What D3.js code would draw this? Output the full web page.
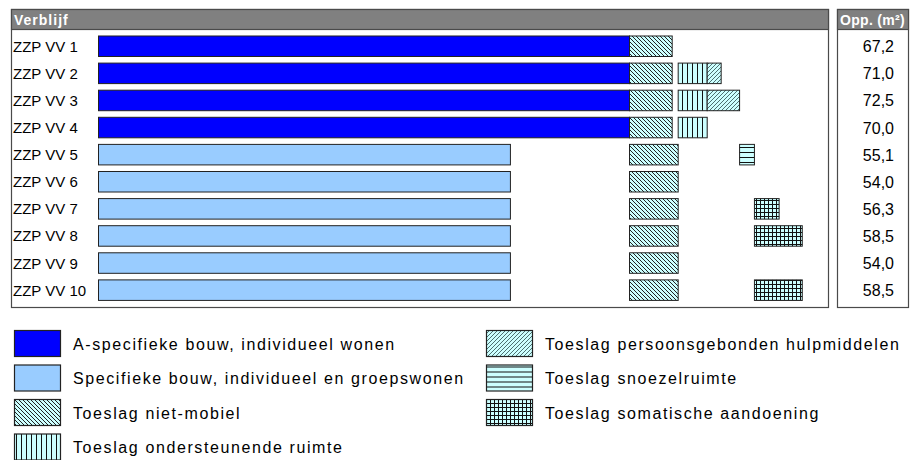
<!DOCTYPE html>
<html>
<head>
<meta charset="utf-8">
<script src="https://cdn.jsdelivr.net/npm/d3@7"></script>
<style>
  body { margin: 0; background: #fff; }
  text { font-family: "Liberation Sans", Arial, sans-serif; }
</style>
</head>
<body>
<script>
// data (m2)
const categories = ["ZZP VV 1", "ZZP VV 2", "ZZP VV 3", "ZZP VV 4", "ZZP VV 5",
                    "ZZP VV 6", "ZZP VV 7", "ZZP VV 8", "ZZP VV 9", "ZZP VV 10"];
const aSpecifiek    = [62.1, 62.1, 62.1, 62.1, 0, 0, 0, 0, 0, 0];
const specifiek     = [0, 0, 0, 0, 48.2, 48.2, 48.2, 48.2, 48.2, 48.2];
const nietMobiel    = [5.1, 5.1, 5.1, 5.1, 5.8, 5.8, 5.8, 5.8, 5.8, 5.8];
const ondersteunend = [0, 3.5, 3.5, 3.5, 0, 0, 0, 0, 0, 0];
const hulpmiddelen  = [0, 1.75, 3.9, 0, 0, 0, 0, 0, 0, 0];
const snoezel       = [0, 0, 0, 0, 1.85, 0, 0, 0, 0, 0];
const somatisch     = [0, 0, 0, 0, 0, 0, 3.0, 5.7, 0, 5.7];
const totals = ["67,2", "71,0", "72,5", "70,0", "55,1", "54,0", "56,3", "58,5", "54,0", "58,5"];

const series = [
  { key: "A-specifieke bouw, individueel wonen", values: aSpecifiek, fill: "#0000ff", col: 0 },
  { key: "Specifieke bouw, individueel en groepswonen", values: specifiek, fill: "#99ccff", col: 0 },
  { key: "Toeslag niet-mobiel", values: nietMobiel, fill: "url(#p-nm)", col: 1 },
  { key: "Toeslag ondersteunende ruimte", values: ondersteunend, fill: "url(#p-ond)", col: 2 },
  { key: "Toeslag persoonsgebonden hulpmiddelen", values: hulpmiddelen, fill: "url(#p-hulp)", col: 3 },
  { key: "Toeslag snoezelruimte", values: snoezel, fill: "url(#p-snoe)", col: 4 },
  { key: "Toeslag somatische aandoening", values: somatisch, fill: "url(#p-som)", col: 5 }
];

const svg = d3.select("body").append("svg").attr("width", 912).attr("height", 460);

// hatch patterns
const defs = svg.append("defs");
function pattern(id, w, h, d, stroke, sw) {
  let p = defs.append("pattern").attr("id", id).attr("patternUnits", "userSpaceOnUse")
              .attr("width", w).attr("height", h);
  p.append("rect").attr("width", w).attr("height", h).attr("fill", "#ccffff");
  p.append("path").attr("d", d).attr("stroke", stroke).attr("stroke-width", sw).attr("fill", "none");
}
pattern("p-nm", 4, 4, "M-1,-1L5,5M-1,3L1,5M3,-1L5,1", "#222", 1);
pattern("p-hulp", 4, 4, "M-1,5L5,-1M-1,1L1,-1M3,5L5,3", "#4d6f6f", 1);
pattern("p-ond", 5, 4, "M2.5,0V4", "#111", 1);
pattern("p-snoe", 4, 5, "M0,2.5H4", "#111", 1);
pattern("p-som", 4, 4, "M0.5,0V4M0,0.5H4", "#111", 1);

// scales
let x = d3.scaleLinear().domain([0, 62.1]).range([98, 630]);
let w = v => x(v) - x(0);
let y = d3.scaleBand().domain(categories).range([32.7, 303.7])
          .paddingInner(0.243).paddingOuter(0.1215);

// each toeslag sits in its own column, starting where the widest bar of the previous one ends
let colMax = [];
series.forEach(s => { colMax[s.col] = Math.max(colMax[s.col] || 0, d3.max(s.values, w)); });
let colStart = [x(0)];
for (let c = 1; c < colMax.length; c++) colStart[c] = colStart[c - 1] + colMax[c - 1] - 1;

// panels
svg.append("rect").attr("x", 11.5).attr("y", 9.5).attr("width", 817).attr("height", 298)
   .attr("fill", "#fff").attr("stroke", "#4a4a4a").attr("stroke-width", 1.2);
svg.append("rect").attr("x", 11.5).attr("y", 9.5).attr("width", 817).attr("height", 20)
   .attr("fill", "#808080").attr("stroke", "#4a4a4a").attr("stroke-width", 1.2);
svg.append("text").attr("x", 14).attr("y", 25).attr("fill", "#fff")
   .style("font-weight", "bold").style("font-size", "14px").style("letter-spacing", "1px")
   .text("Verblijf");

svg.append("rect").attr("x", 837.5).attr("y", 9.5).attr("width", 71).attr("height", 298)
   .attr("fill", "#fff").attr("stroke", "#4a4a4a").attr("stroke-width", 1.2);
svg.append("rect").attr("x", 837.5).attr("y", 9.5).attr("width", 71).attr("height", 20)
   .attr("fill", "#808080").attr("stroke", "#4a4a4a").attr("stroke-width", 1.2);
svg.append("text").attr("x", 840).attr("y", 25).attr("fill", "#fff")
   .style("font-weight", "bold").style("font-size", "14px").style("letter-spacing", "0.3px")
   .text("Opp. (m²)");

// row labels
svg.append("g").selectAll("text").data(categories).enter().append("text")
   .attr("x", 13).attr("y", d => y(d) + y.bandwidth() / 2 + 5.5)
   .style("font-size", "15px").text(d => d);

// totals
svg.append("g").selectAll("text").data(totals).enter().append("text")
   .attr("x", 894).attr("y", (d, i) => y(categories[i]) + y.bandwidth() / 2 + 6)
   .attr("text-anchor", "end").style("font-size", "16px").text(d => d);

// bars
series.forEach(s => {
  svg.append("g").selectAll("rect")
     .data(s.values.map((v, i) => ({ v: v, cat: categories[i] })).filter(d => d.v > 0))
     .enter().append("rect")
     .attr("x", colStart[s.col] + 0.5)
     .attr("y", d => y(d.cat))
     .attr("width", d => w(d.v) - 1)
     .attr("height", y.bandwidth())
     .attr("fill", s.fill)
     .attr("stroke", "#222").attr("stroke-width", 1);
});

// legend
let legend = svg.append("g").selectAll("g").data(series).enter().append("g")
   .attr("transform", (d, i) => i < 4 ? `translate(14,${330 + i * 34.5})`
                                       : `translate(486,${330 + (i - 4) * 34.5})`);
legend.append("rect").attr("x", 0.5).attr("y", 0.5).attr("width", 46).attr("height", 26)
   .attr("fill", d => d.fill).attr("stroke", "#222").attr("stroke-width", 1.2);
legend.append("text").attr("x", 59).attr("y", 19.5)
   .style("font-size", "16px").style("letter-spacing", "1.6px").text(d => d.key);
</script>
</body>
</html>
